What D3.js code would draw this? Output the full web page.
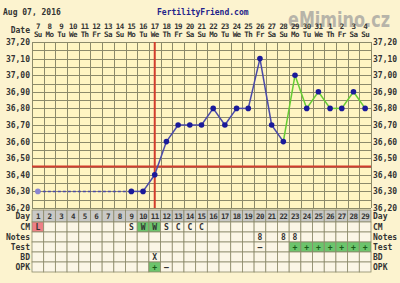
<!DOCTYPE html>
<html>
<head>
<meta charset="utf-8">
<script src="https://cdn.jsdelivr.net/npm/d3@7"></script>
<style>
body { margin: 0; background: #fcf3cf; }
svg text { font-family: "DejaVu Sans Mono", monospace; font-weight: bold; font-size: 8px; fill: #333; }
svg text.narrow { font-size: 7.5px; letter-spacing: -0.6px; }
</style>
</head>
<body>
<svg id="chart" width="400" height="283"></svg>
<script>
// chart values
var days = d3.range(1, 30);
var dates = ["7","8","9","10","11","12","13","14","15","16","17","18","19","20","21","22","23","24","25","26","27","28","29","30","31","1","2","3","4"];
var weekdays = ["Su","Mo","Tu","We","Th","Fr","Sa","Su","Mo","Tu","We","Th","Fr","Sa","Su","Mo","Tu","We","Th","Fr","Sa","Su","Mo","Tu","We","Th","Fr","Sa","Su"];
var temps = [36.30,null,null,null,null,null,null,null,36.30,36.30,36.40,36.60,36.70,36.70,36.70,36.80,36.70,36.80,36.80,37.10,36.70,36.60,37.00,36.80,36.90,36.80,36.80,36.90,36.80];
var yTicks = [36.2,36.3,36.4,36.5,36.6,36.7,36.8,36.9,37.0,37.1,37.2];
var coverline = 36.45;
var ovulationDay = 11;
var greenFrom = 22;
var cm = ["L","","","","","","","","S","W","W","S","C","C","C","","","","","","","","","","","","","",""];
var notes = ["","","","","","","","","","","","","","","","","","","","8","","8","8","","","","","",""];
var test = ["","","","","","","","","","","","","","","","","","","","\u2013","","","+","+","+","+","+","+","+"];
var bd = ["","","","","","","","","","","X","","","","","","","","","","","","","","","","","",""];
var opk = ["","","","","","","","","","","+","\u2013","","","","","","","","","","","","","","","","",""];
var rowNames = ["Day","CM","Notes","Test","BD","OPK"];

var svg = d3.select("#chart");
var pLeft = 32, pRight = 371, pTop = 42, pBottom = 208;

var x = d3.scaleBand().domain(days).range([pLeft, pRight]);
var y = d3.scaleLinear().domain([36.2, 37.2]).range([pBottom, pTop]);
var cx = function(d) { return x(d) + x.bandwidth() / 2; };
var fmt = function(v) { return d3.format(".2f")(v).replace(".", ","); };

// header
svg.append("text").attr("x", 3).attr("y", 15).text("Aug 07, 2016");
svg.append("text").attr("x", 157).attr("y", 15).style("fill", "#22228a").text("FertilityFriend.com");
svg.append("text").attr("x", 390).attr("y", 27).attr("text-anchor", "end")
    .style("font-family", "DejaVu Sans").style("font-size", "22px").style("fill", "#9a9a9a")
    .style("opacity", 0.7).attr("textLength", 102).attr("lengthAdjust", "spacingAndGlyphs").text("eMimino.cz");
svg.append("text").attr("x", 30).attr("y", 33).attr("text-anchor", "end").text("Date");

svg.append("g").selectAll("text").data(days).enter().append("text")
    .attr("class", "narrow")
    .attr("x", cx).attr("y", 29).attr("text-anchor", "middle")
    .text(function(d, i) { return dates[i]; });
svg.append("g").selectAll("text").data(days).enter().append("text")
    .attr("class", "narrow")
    .attr("x", cx).attr("y", 37).attr("text-anchor", "middle")
    .text(function(d, i) { return weekdays[i]; });

// plot area
svg.append("rect").attr("x", pLeft).attr("y", pTop).attr("width", pRight - pLeft).attr("height", pBottom - pTop)
    .attr("fill", "#fff5c2");

var grid = svg.append("g").attr("stroke", "#8c8a6a").attr("stroke-width", 1);
grid.selectAll("line.h").data(d3.range(0, 21)).enter().append("line")
    .attr("x1", pLeft).attr("x2", pRight)
    .attr("y1", function(i) { return Math.round(y(36.2 + i * 0.05)) + 0.5; })
    .attr("y2", function(i) { return Math.round(y(36.2 + i * 0.05)) + 0.5; });
grid.selectAll("line.v").data(days.concat([30])).enter().append("line")
    .attr("y1", pTop).attr("y2", pBottom)
    .attr("x1", function(d) { return Math.round(x(d) || pRight) + 0.5; })
    .attr("x2", function(d) { return Math.round(x(d) || pRight) + 0.5; });

// y labels both sides
svg.append("g").selectAll("text").data(yTicks).enter().append("text")
    .attr("x", 30).attr("y", function(d) { return y(d) + 3; }).attr("text-anchor", "end").text(fmt);
svg.append("g").selectAll("text").data(yTicks).enter().append("text")
    .attr("x", 373).attr("y", function(d) { return y(d) + 3; }).text(fmt);

// coverline and ovulation line
svg.append("line").attr("x1", pLeft).attr("x2", pRight).attr("y1", y(coverline)).attr("y2", y(coverline))
    .attr("stroke", "#d23c2c").attr("stroke-width", 2);
svg.append("line").attr("x1", cx(ovulationDay)).attr("x2", cx(ovulationDay)).attr("y1", pTop).attr("y2", pBottom)
    .attr("stroke", "#d23c2c").attr("stroke-width", 2);

// temperature lines
var pts = days.map(function(d, i) { return {day: d, t: temps[i]}; }).filter(function(p) { return p.t !== null; });
var line = d3.line().x(function(p) { return cx(p.day); }).y(function(p) { return y(p.t); });
var segs = d3.pairs(pts);
svg.append("g").selectAll("path").data(segs).enter().append("path")
    .attr("d", line).attr("fill", "none").attr("stroke-width", 1.5)
    .attr("stroke", function(s) { return s[0].day >= greenFrom ? "#66cc33" : "#4a4aa8"; })
    .attr("stroke-dasharray", function(s) { return s[1].day - s[0].day > 1 ? "3,2" : null; });
svg.append("g").selectAll("circle").data(pts).enter().append("circle")
    .attr("cx", function(p) { return cx(p.day); }).attr("cy", function(p) { return y(p.t); })
    .attr("r", 2.8)
    .attr("fill", function(p, i) { return i === 0 ? "#8c86d0" : "#1a1a9a"; });

// table
var rowTop = [210, 222, 232, 242, 252, 262], rowH = [12, 10, 10, 10, 10, 10];
var rowData = [days.map(String), cm, notes, test, bd, opk];
var table = svg.append("g");
rowNames.forEach(function(name, r) {
    var g = table.append("g");
    g.selectAll("rect").data(days).enter().append("rect")
        .attr("x", function(d) { return x(d); }).attr("y", rowTop[r])
        .attr("width", x.bandwidth()).attr("height", rowH[r])
        .attr("stroke", "#8c8a6a").attr("stroke-width", 0.8)
        .attr("fill", function(d, i) {
            var v = rowData[r][i];
            if (r === 0) return "#c9c9c6";
            if (v === "L") return "#ee7f86";
            if (v === "W" || v === "+") return "#6cc46c";
            return "#fbf6e6";
        });
    g.selectAll("text").data(days).enter().append("text")
        .attr("class", r === 0 ? "narrow" : null)
        .attr("x", cx).attr("y", rowTop[r] + rowH[r] / 2 + 3).attr("text-anchor", "middle")
        .style("fill", function(d, i) { return rowData[r][i] === "+" ? "#1a5a1a" : "#333"; })
        .text(function(d, i) { return rowData[r][i]; });
    svg.append("text").attr("x", 30).attr("y", rowTop[r] + rowH[r] / 2 + 3).attr("text-anchor", "end").text(name);
    svg.append("text").attr("x", 373).attr("y", rowTop[r] + rowH[r] / 2 + 3).text(name);
});
</script>
</body>
</html>
